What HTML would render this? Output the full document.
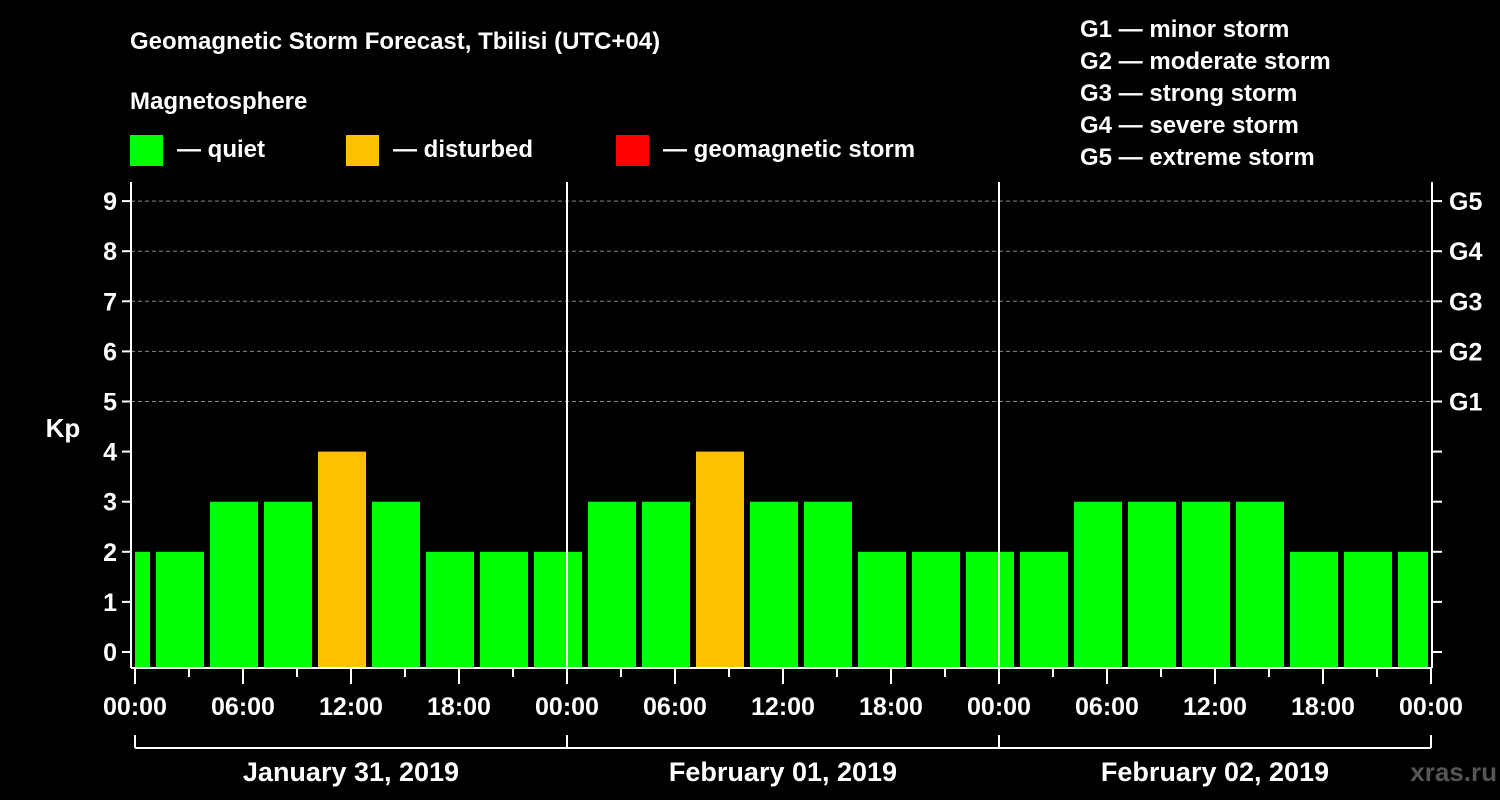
<!DOCTYPE html>
<html><head><meta charset="utf-8"><style>
body{margin:0;background:#000;}
svg{display:block;font-family:"Liberation Sans",Arial,sans-serif;font-weight:bold;}
</style></head><body>
<svg id="chart" width="1500" height="800" viewBox="0 0 1500 800">
<rect width="1500" height="800" fill="#000"/>
<text x="130" y="49" fill="#fff" font-size="24">Geomagnetic Storm Forecast, Tbilisi (UTC+04)</text>
<text x="130" y="109" fill="#fff" font-size="24">Magnetosphere</text>
<g><rect x="130" y="135" width="33" height="31" fill="#00ff00"/><text x="177" y="157" fill="#fff" font-size="24">— quiet</text></g>
<g><rect x="346" y="135" width="33" height="31" fill="#ffc000"/><text x="393" y="157" fill="#fff" font-size="24">— disturbed</text></g>
<g><rect x="616" y="135" width="33" height="31" fill="#ff0000"/><text x="663" y="157" fill="#fff" font-size="24">— geomagnetic storm</text></g>
<g fill="#fff" font-size="24">
<text x="1080" y="37">G1 — minor storm</text>
<text x="1080" y="69">G2 — moderate storm</text>
<text x="1080" y="101">G3 — strong storm</text>
<text x="1080" y="133">G4 — severe storm</text>
<text x="1080" y="165">G5 — extreme storm</text>
</g>
<text x="63" y="437" fill="#fff" font-size="26" text-anchor="middle">Kp</text>
<text x="1497" y="781" fill="#555" font-size="26" text-anchor="end">xras.ru</text>
<g id="plot"></g>
</svg>
<script>
const startHours=[-2,1,4,7,10,13,16,19,22,25,28,31,34,37,40,43,46,49,52,55,58,61,64,67,70];
const kpValues=[2,2,3,3,4,3,2,2,2,3,3,4,3,3,2,2,2,2,3,3,3,3,2,2,2];
const yTicks=[0,1,2,3,4,5,6,7,8,9];
const gLabels=["G1","G2","G3","G4","G5"];
const xTickLabels=["00:00","06:00","12:00","18:00"];
const dayLabels=["January 31, 2019","February 01, 2019","February 02, 2019"];

const NS="http://www.w3.org/2000/svg";
const plot=document.getElementById('plot');
const X0=135,PXH=18,Y0=652,PXU=50.1,LEFT=131,RIGHT=1432,TOP=182,BOT=668;
const xs=h=>X0+h*PXH, ys=v=>Y0-v*PXU;
function mk(tag,attrs){const e=document.createElementNS(NS,tag);for(const k in attrs)e.setAttribute(k,attrs[k]);plot.appendChild(e);return e;}
// grid
yTicks.forEach(v=>{
  if(v>=5){const g=mk('line',{x1:LEFT,x2:RIGHT,y1:ys(v),y2:ys(v),stroke:'#888','stroke-dasharray':'4,3','stroke-width':1});
  
  }
});
// bars
startHours.forEach((h,i)=>{
  let a=Math.max(xs(h)+3,xs(0)),b=Math.min(xs(h+3)-3,xs(72)-3);
  const v=kpValues[i];
  const r=mk('rect',{x:a,y:ys(v),width:b-a,height:BOT-1-ys(v),fill:v>=5?'#ff0000':(v>=4?'#ffc000':'#00ff00')});
  
  
});
// axes
[[LEFT,TOP,LEFT,BOT],[RIGHT,TOP,RIGHT,BOT],[LEFT,BOT,RIGHT,BOT],[xs(24),TOP,xs(24),BOT],[xs(48),TOP,xs(48),BOT]].forEach(c=>{
  const l=mk('line',{x1:c[0],y1:c[1],x2:c[2],y2:c[3],stroke:'#fff','stroke-width':2});
  
  
});
yTicks.forEach(v=>{
  mk('line',{x1:122,x2:LEFT,y1:ys(v),y2:ys(v),stroke:'#fff','stroke-width':2});
  mk('line',{x1:RIGHT,x2:1442,y1:ys(v),y2:ys(v),stroke:'#fff','stroke-width':2});
  const t=mk('text',{x:117,y:ys(v)+9,fill:'#fff','font-size':25,'text-anchor':'end'});
  t.textContent=v;
  
  
});
gLabels.forEach((g,i)=>{
  const t=mk('text',{x:1449,y:ys(5+i)+9,fill:'#fff','font-size':25});
  t.textContent=g;
  
  
});
for(let h=0;h<=72;h+=3){
  const major=h%6===0;
  mk('line',{x1:xs(h),x2:xs(h),y1:BOT,y2:BOT+(major?16:9),stroke:'#fff','stroke-width':2});
  if(major){
    const t=mk('text',{x:xs(h),y:715,fill:'#fff','font-size':25,'text-anchor':'middle'});
    t.textContent=xTickLabels[(h/6)%4];
    
    
  }
}
mk('line',{x1:xs(0),x2:xs(72),y1:748,y2:748,stroke:'#fff','stroke-width':2});
for(let d=0;d<=3;d++) mk('line',{x1:xs(d*24),x2:xs(d*24),y1:735,y2:748,stroke:'#fff','stroke-width':2});
dayLabels.forEach((s,i)=>{
  const t=mk('text',{x:xs(i*24+12),y:781,fill:'#fff','font-size':27,'text-anchor':'middle'});
  t.textContent=s;
  
  
});
</script>
</body></html>
